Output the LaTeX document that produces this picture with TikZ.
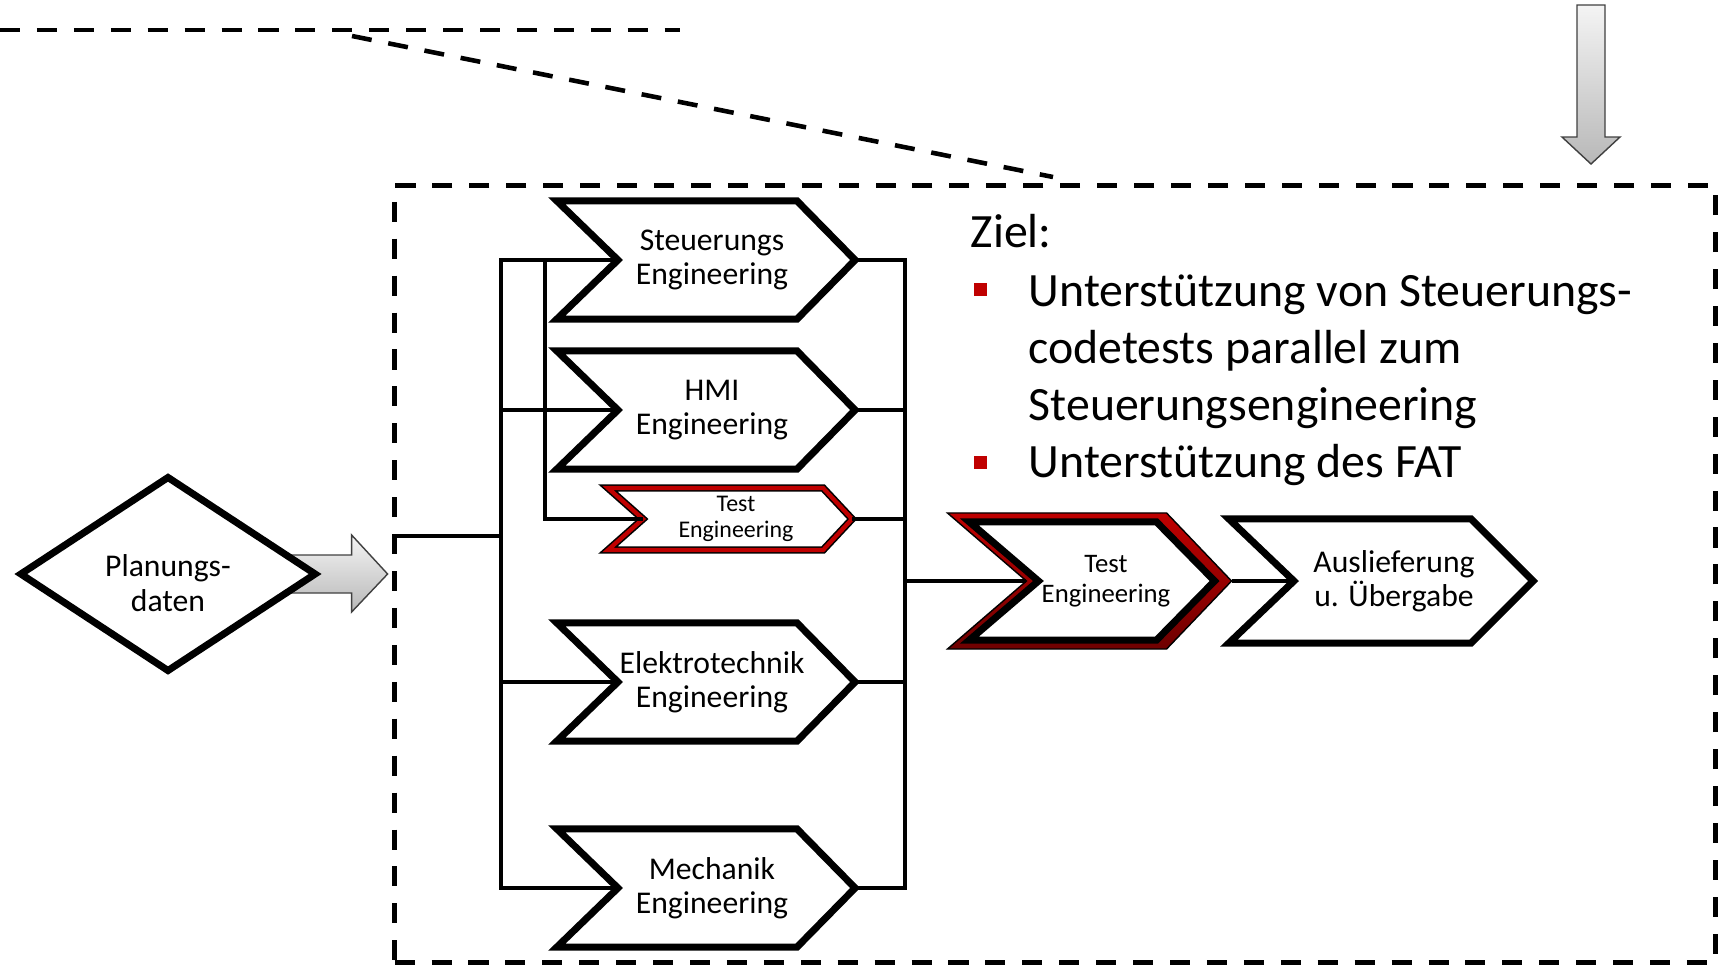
\documentclass[tikz,border=0pt]{standalone}
\usepackage{fontspec}
\setmainfont{Carlito}
\usetikzlibrary{calc,backgrounds,shapes.geometric}
\definecolor{cRed}{HTML}{C00000}
\definecolor{cDarkRed}{HTML}{6E0000}
\definecolor{cArrowTop}{HTML}{F4F4F4}
\definecolor{cArrowBot}{HTML}{B8B8B8}
% chevron outline around a node: node, notch depth, tip depth, extra length on the left
\newcommand{\chevpath}[4]{($(#1.north west)+(-#4,0)$) -- ($(#1.north east)+(-#3,0)$) -- (#1.east) -- ($(#1.south east)+(-#3,0)$) -- ($(#1.south west)+(-#4,0)$) -- ($(#1.west)+(#2-#4,0)$) -- cycle}
\tikzset{
  chev/.style={minimum width=2.86cm, minimum height=1.18cm, inner sep=0pt, outer sep=0pt,
               align=center, font=\fontsize{9}{9.7}\selectfont},
  chevline/.style={draw=black, line width=2pt, fill=white},
  testline/.style={draw=black, line width=0.45pt, double=cRed, double distance=1.2pt, fill=white},
  conn/.style={draw=black, line width=1.3pt},
  dashline/.style={draw=black, line width=1.3pt, dash pattern=on 5.7pt off 4.8pt},
  grayarr/.style={draw=black!75, line width=0.4pt, top color=cArrowTop, bottom color=cArrowBot},
  goal/.style={font=\fontsize{13.6}{16.2}\selectfont, align=left, anchor=base west, inner sep=0pt},
  sq/.style={fill=cRed, minimum size=0.13cm, inner sep=0pt},
  plan/.style={diamond, draw=black, line width=2pt, fill=white, minimum width=2.97cm,
               minimum height=1.87cm, inner sep=0pt, font=\fontsize{9}{10}\selectfont}
}
\begin{document}
\begin{tikzpicture}[x=0.01cm, y=-0.01cm]
\useasboundingbox (0,0) rectangle (1720,966);
% zoom lines from the overview above
\coordinate (zoomA) at (352,36);
\coordinate (zoomB) at (1053,177);
\draw[dashline] (0,30) -- (680,30);
\draw[dashline] (zoomA) -- (zoomB);
% dashed frame of the detailed process
\node[dashline, minimum width=13.2cm, minimum height=7.76cm, inner sep=0pt, outer sep=0pt] (scopebox) at (1055,574) {};
\node[plan] (plan) at (168,574) {\raisebox{-3.7pt}[\height][\depth]{\begin{tabular}{@{}c@{}}Planungs-\\daten\end{tabular}}};
% process steps
\node[chev] (steu) at (712,260) {Steuerungs\\Engineering};
\node[chev] (hmi) at (712,410) {HMI\\Engineering};
\node[chev, minimum width=2.32cm, minimum height=0.62cm, font=\fontsize{6.8}{7.4}\selectfont] (testA) at (736,519) {Test\\Engineering};
\node[chev] (elek) at (712,682) {Elektrotechnik\\Engineering};
\node[chev] (mech) at (712,888) {Mechanik\\Engineering};
\node[chev, minimum width=2.17cm, font=\fontsize{7.6}{8.4}\selectfont] (testB) at (1106,581) {Test\\Engineering};
\node[chev, minimum width=2.78cm, minimum height=1.24cm] (ausl) at (1394,581) {Auslieferung\\u. Übergabe};
% goals
\node[goal] (ziel) at (970,247) {Ziel:};
\node[sq] (sq1) at (980,289) {};
\node[goal] (goal1) at (1028,420) {Unterstützung von Steuerungs-\\codetests parallel zum\\Steuerungsengineering};
\node[sq] (sq2) at (980,462) {};
\node[goal] (goal2) at (1028,477) {Unterstützung des FAT};
% outlines behind the labels
\begin{scope}[on background layer]
  \coordinate (arrTip) at ($(scopebox.west |- plan.east)+(-7,0)$);
  \path[grayarr] (arrTip) -- ++(-36,-39) -- ++(0,20) -- ++(-64,0) -- ++(0,38) -- ++(64,0) -- ++(0,19) -- cycle;
  \coordinate (downTip) at (1591,164);
  \path[grayarr] (downTip) -- ++(-29,-27) -- ++(15,0) -- ++(0,-132) -- ++(28,0) -- ++(0,132) -- ++(15,0) -- cycle;
  \foreach \n in {steu,hmi,elek,mech} {
    \draw[chevline] \chevpath{\n}{61}{58}{12};
  }
  \draw[testline] \chevpath{testA}{35}{29}{12};
  \path[draw=black, line width=0.4pt, top color=cRed, bottom color=cDarkRed]
    ($(testB.north west)+(-50,-9)$) -- ($(testB.north east)+(-48,-9)$) -- ($(testB.east)+(17,0)$)
    -- ($(testB.south east)+(-48,9)$) -- ($(testB.south west)+(-50,9)$) -- ($(testB.west)+(29,0)$) -- cycle;
  \draw[chevline] \chevpath{testB}{69}{58}{28};
  \draw[chevline] \chevpath{ausl}{65}{62}{26};
\end{scope}
% connectors
\foreach \n in {steu,hmi,elek,mech} {
  \coordinate (\n-in) at ($(\n.west)+(49,0)$);
}
\coordinate (testA-in) at ($(testA.west)+(23,0)$);
\coordinate (testB-in) at ($(testB.west)+(29,0)$);
\coordinate (testB-out) at ($(testB.east)+(17,0)$);
\coordinate (ausl-in) at ($(ausl.west)+(39,0)$);
\coordinate (feed) at (scopebox.west |- 0,536);
\coordinate (busL) at (501,260);
\coordinate (busI) at (545,260);
\coordinate (busR) at (905,260);
\draw[conn] (steu-in) -| (busL) |- (mech-in);
\draw[conn] (hmi-in) -- (hmi-in -| busL);
\draw[conn] (elek-in) -- (elek-in -| busL);
\draw[conn] (feed) -- (feed -| busL);
\draw[conn] (testA-in) -| (busI);
\draw[conn] (steu.east) -| (busR) |- (mech.east);
\foreach \n in {hmi,testA,elek} {
  \draw[conn] (\n.east) -- (\n.east -| busR);
}
\draw[conn] (busR |- testB-in) -- (testB-in);
\draw[conn] (testB-out) -- (ausl-in);
\end{tikzpicture}
\end{document}
